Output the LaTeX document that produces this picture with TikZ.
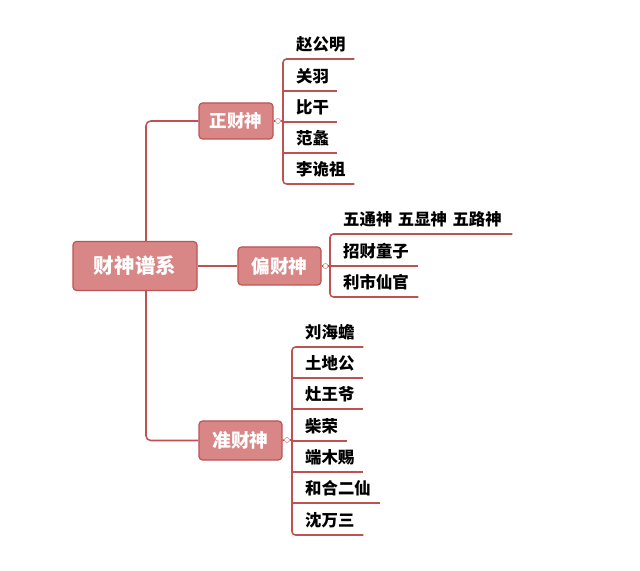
\documentclass[tikz,border=0pt]{standalone}
\usepackage{fontspec}
\setmainfont{Noto Sans CJK SC}
\usetikzlibrary{positioning,calc}
\definecolor{boxred}{RGB}{217,134,134}
\definecolor{linered}{RGB}{190,82,82}

\tikzset{
  link/.style={draw=linered, line width=1.3pt},
  topicbox/.style={draw=linered, fill=boxred, line width=1pt, rounded corners=3pt,
    text=white, font=\bfseries\fontsize{16pt}{18pt}\selectfont, inner sep=0pt},
  knob/.style={circle, draw=linered!70, fill=white, line width=0.5pt,
    minimum size=5*0.03cm, inner sep=0pt},
  leaf/.style={anchor=south west, inner sep=0pt,
    text width=#1*0.03cm, align=left,
    execute at begin node={\noindent\hspace*{0.39cm}},
    text depth=8*0.03cm, font=\bfseries\fontsize{14pt}{16pt}\selectfont}
}

\begin{document}
\begin{tikzpicture}[x=0.03cm, y=-0.03cm]
\useasboundingbox[fill=white] (0,0) rectangle (640,571);

% Main topics
\node[topicbox, minimum width=124*0.03cm, minimum height=49*0.03cm,
  font=\bfseries\fontsize{17.5pt}{20pt}\selectfont] (root) at (135,266) {财神谱系};
\node[topicbox, minimum width=74*0.03cm, minimum height=36*0.03cm,
  font=\bfseries\fontsize{15pt}{18pt}\selectfont] (zheng) at (236,121) {正财神};
\node[topicbox, minimum width=83*0.03cm, minimum height=38*0.03cm] (pian) at (279.5,266) {偏财神};
\node[topicbox, minimum width=83*0.03cm, minimum height=39*0.03cm] (zhun) at (240.5,440.5) {准财神};

% Trunk
\coordinate (trunktop) at (146,242);
\coordinate (trunkbot) at (146,291);
\draw[link, rounded corners=4pt] (trunktop) |- (zheng.west);
\draw[link, rounded corners=4pt] (trunkbot) |- (zhun.west);
\draw[link] (root.east) -- (pian.west);

% Knobs
\node[knob] (kzheng) at (278,121) {};
\node[knob] (kpian) at (325.5,266) {};
\node[knob] (kzhun) at (287,440) {};

% Zheng cai shen
\node[leaf=71] (z1) at (283,59) {赵公明};
\node[leaf=54] (z2) at (283,91) {关羽};
\node[leaf=54] (z3) at (283,122) {比干};
\node[leaf=54] (z4) at (283,153) {范蠡};
\node[leaf=71] (z5) at (283,184) {李诡祖};

% Pian cai shen
\node[leaf=182] (p1) at (330,234) {五通神 五显神 五路神};
\node[leaf=88] (p2) at (330,266) {招财童子};
\node[leaf=88] (p3) at (330,297) {利市仙官};

% Zhun cai shen
\node[leaf=71] (u1) at (292,347) {刘海蟾};
\node[leaf=71] (u2) at (292,378) {土地公};
\node[leaf=71] (u3) at (292,409) {灶王爷};
\node[leaf=55] (u4) at (292,441) {柴荣};
\node[leaf=71] (u5) at (292,472) {端木赐};
\node[leaf=88] (u6) at (292,503) {和合二仙};
\node[leaf=71] (u7) at (292,535) {沈万三};

% Brackets
\draw[link, rounded corners=3pt] (z1.south east) -- (z1.south west) -- (z5.south west) -- (z5.south east);
\foreach \n in {z2,z3,z4}
  \draw[link] (\n.south west) -- (\n.south east);
\draw[link, rounded corners=3pt] (p1.south east) -- (p1.south west) -- (p3.south west) -- (p3.south east);
\draw[link] (p2.south west) -- (p2.south east);
\draw[link, rounded corners=3pt] (u1.south east) -- (u1.south west) -- (u7.south west) -- (u7.south east);
\foreach \n in {u2,u3,u4,u5,u6}
  \draw[link] (\n.south west) -- (\n.south east);

% Topic to bracket
\draw[link] (zheng.east) -- (kzheng.west);
\draw[link] (kzheng.east) -- (kzheng.east -| z1.south west);
\draw[link] (pian.east) -- (kpian.west);
\draw[link] (kpian.east) -- (kpian.east -| p1.south west);
\draw[link] (zhun.east) -- (kzhun.west);
\draw[link] (kzhun.east) -- (kzhun.east -| u1.south west);

\end{tikzpicture}
\end{document}
